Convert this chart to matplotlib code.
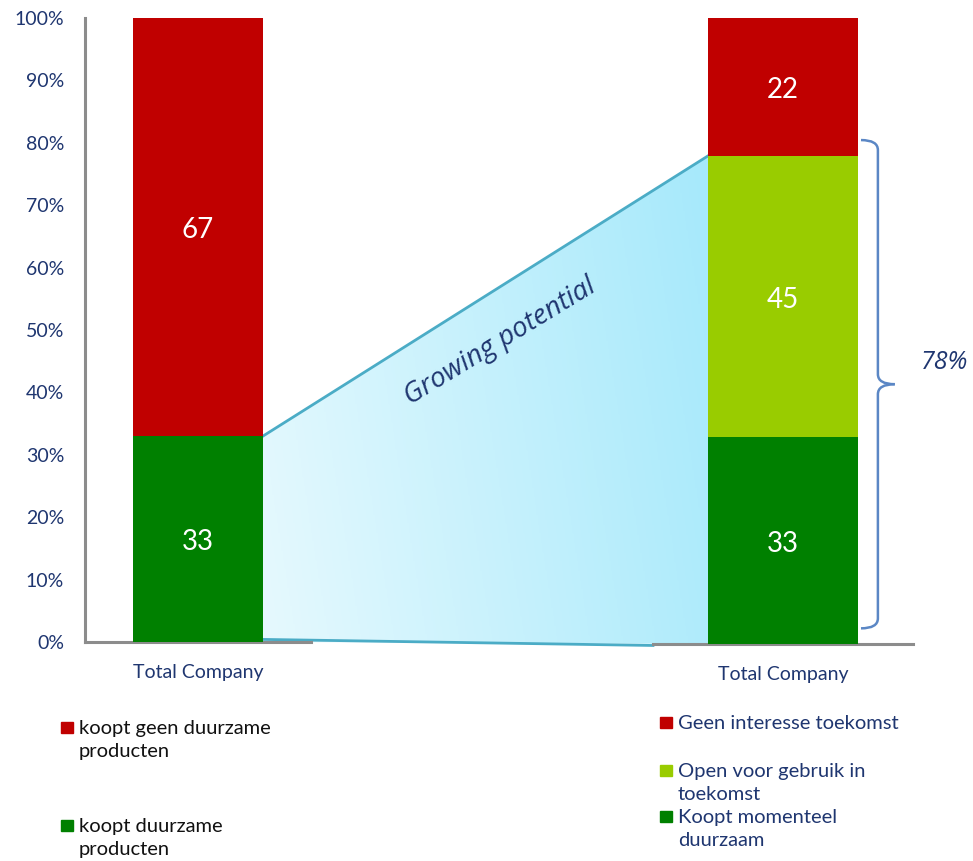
import numpy as np
import matplotlib
matplotlib.use("Agg")
import matplotlib.pyplot as plt
from matplotlib.colors import LinearSegmentedColormap
from matplotlib.patches import Polygon, Rectangle, PathPatch
from matplotlib.path import Path

plt.rcParams["font.family"] = ["Lato", "DejaVu Sans"]

# Daten
categorie = "Total Company"

links_labels = ["koopt geen duurzame\nproducten", "koopt duurzame\nproducten"]
links_waarden = [67, 33]          # boven -> onder
links_kleuren = ["#c00000", "#008000"]

rechts_labels = ["Geen interesse toekomst", "Open voor gebruik in\ntoekomst", "Koopt momenteel\nduurzaam"]
rechts_waarden = [22, 45, 33]     # boven -> onder
rechts_kleuren = ["#c00000", "#99cc00", "#008000"]

potentieel = rechts_waarden[1] + rechts_waarden[2]   # 78
yticks = list(range(0, 101, 10))

NAVY = "#1f3670"
GRIJS = "#8c8c8c"
LIJN = "#4bacc6"

W, H = 973, 861
fig = plt.figure(figsize=(W / 100, H / 100), dpi=100)

def box(x0, y0, x1, y1):
    return [x0 / W, 1 - y1 / H, (x1 - x0) / W, (y1 - y0) / H]

# achtergrond-as voor het verbindingsvlak
bg = fig.add_axes([0, 0, 1, 1], zorder=0)
bg.axis("off")

ax_l = fig.add_axes(box(85, 18, 311, 642), zorder=1)
ax_r = fig.add_axes(box(653, 18, 913, 644), zorder=1)

breedte = 0.575

def stapel(ax, waarden, kleuren):
    onder = 0
    for w, k in zip(waarden[::-1], kleuren[::-1]):
        ax.bar(0, w, bottom=onder, width=breedte, color=k, zorder=3)
        ax.text(0, onder + w / 2 - 0.5, str(w), color="white", fontsize=20,
                ha="center", va="center", zorder=4)
        onder += w

stapel(ax_l, links_waarden, links_kleuren)
stapel(ax_r, rechts_waarden, rechts_kleuren)

for ax in (ax_l, ax_r):
    ax.set_xlim(-0.5, 0.5)
    ax.set_ylim(0, 100)
    ax.set_facecolor("none")
    ax.set_xticks([0])
    ax.set_xticklabels([categorie], fontsize=14, color=NAVY)
    ax.tick_params(axis="x", length=0, pad=16)
    for s in ("top", "right"):
        ax.spines[s].set_visible(False)
    ax.spines["bottom"].set_color(GRIJS)
    ax.spines["bottom"].set_linewidth(2.2)

ax_l.spines["left"].set_color(GRIJS)
ax_l.spines["left"].set_linewidth(2.2)
ax_l.set_yticks(yticks)
ax_l.set_yticklabels([f"{t}%" for t in yticks], fontsize=14, color=NAVY)
ax_l.tick_params(axis="y", length=0, pad=15)

ax_r.spines["left"].set_visible(False)
ax_r.set_yticks([])

# verbindingsvlak "Growing potential"
naar_fig = fig.transFigure.inverted()
p_lo = naar_fig.transform(ax_l.transData.transform((breedte / 2, 0)))
p_lb = naar_fig.transform(ax_l.transData.transform((breedte / 2, links_waarden[1])))
p_rb = naar_fig.transform(ax_r.transData.transform((-breedte / 2, potentieel)))
p_ro = naar_fig.transform(ax_r.transData.transform((-breedte / 2, 0)))

vlak = Polygon([p_lo, p_lb, p_rb, p_ro], closed=True, facecolor="none",
               edgecolor="none", transform=bg.transAxes)
bg.add_patch(vlak)

gx, gy = np.meshgrid(np.linspace(0, 1, 300), np.linspace(0, 1, 300))
verloop = 0.85 * gx + 0.15 * gy
cmap = LinearSegmentedColormap.from_list("blauw", ["#e6f9fe", "#a6e9fb"])
img = bg.imshow(verloop, cmap=cmap, origin="lower", aspect="auto",
                extent=[p_lo[0], p_rb[0], p_ro[1], p_rb[1]], zorder=1)
img.set_clip_path(vlak)
bg.set_xlim(0, 1)
bg.set_ylim(0, 1)

bg.plot([p_lb[0], p_rb[0]], [p_lb[1], p_rb[1]], color=LIJN, lw=2, zorder=2)
x_eind = 653 / W
y_eind = p_lo[1] + (p_ro[1] - p_lo[1]) * (x_eind - p_lo[0]) / (p_ro[0] - p_lo[0])
bg.plot([p_lo[0], x_eind], [p_lo[1] + 0.003, y_eind - 0.002], color=LIJN, lw=2, zorder=2)

fig.text(500 / W, 1 - 342 / H, "Growing potential", family=["Open Sans", "DejaVu Sans"],
         style="italic", fontsize=20, color=NAVY, rotation=31.5,
         ha="center", va="center", rotation_mode="anchor")

# accolade rond het potentieel
marge = 2.5
y0, y1 = marge, potentieel + marge
ym = (y0 + y1) / 2
xa, xb, xc = 0.30, 0.365, 0.43
r = 1.6
bovenhelft = Path([(xa, y1), (xb, y1), (xb, y1 - r), (xb, ym + r), (xb, ym), (xc, ym)],
                  [Path.MOVETO, Path.CURVE3, Path.CURVE3, Path.LINETO, Path.CURVE3, Path.CURVE3])
onderhelft = Path([(xc, ym), (xb, ym), (xb, ym - r), (xb, y0 + r), (xb, y0), (xa, y0)],
                  [Path.MOVETO, Path.CURVE3, Path.CURVE3, Path.LINETO, Path.CURVE3, Path.CURVE3])
for p in (bovenhelft, onderhelft):
    ax_r.add_patch(PathPatch(p, facecolor="none", edgecolor="#5b87c5", lw=1.8,
                             clip_on=False, zorder=4))

ax_r.text(0.53, ym + 3.5, f"{potentieel}%", style="italic", fontsize=18,
          family=["Open Sans", "DejaVu Sans"], color=NAVY,
          ha="left", va="center", clip_on=False)

# legenda's
def legenda(x, items, kleuren, tekstkleur):
    for (y, tekst), k in zip(items, kleuren):
        fig.patches.append(Rectangle((x / W, 1 - (y + 6) / H), 12 / W, 11 / H,
                                     transform=fig.transFigure, color=k))
        fig.text((x + 18) / W, 1 - (y - 7) / H, tekst, fontsize=14.5, color=tekstkleur,
                 ha="left", va="top", linespacing=1.45)

legenda(61, zip([727, 825], links_labels), links_kleuren, "#111111")
legenda(660, zip([722, 770, 816], rechts_labels), rechts_kleuren, NAVY)

plt.savefig("out.png", dpi=100)
